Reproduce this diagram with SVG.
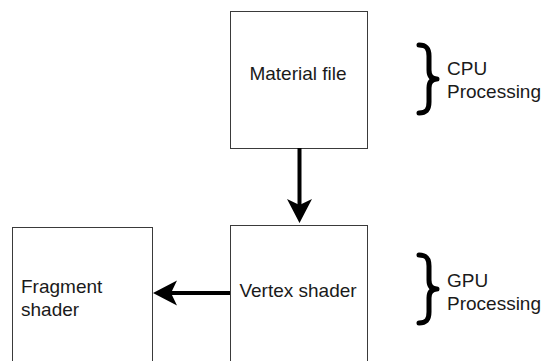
<svg xmlns="http://www.w3.org/2000/svg" width="544" height="361" viewBox="0 0 544 361">
  <style>
    .box { fill: #ffffff; stroke: #3a3a3a; stroke-width: 1; }
    .lbl { font-family: "Liberation Sans", Arial, sans-serif; font-size: 19px; fill: #1a1a1a; }
    .edge { stroke: #000000; stroke-width: 4; fill: none; }
    .head { fill: #000000; stroke: none; }
    .brace { stroke: #000000; stroke-width: 5; fill: none; stroke-linecap: round; stroke-linejoin: round; }
  </style>
  <rect width="544" height="361" fill="#ffffff"/>

  <g id="material-file">
    <rect class="box" x="230.5" y="11.5" width="137" height="137"/>
    <text class="lbl" x="298" y="80" text-anchor="middle">Material file</text>
  </g>

  <g id="vertex-shader">
    <rect class="box" x="230.5" y="225.5" width="137" height="150"/>
    <text class="lbl" x="298" y="297" text-anchor="middle">Vertex shader</text>
  </g>

  <g id="fragment-shader">
    <rect class="box" x="12.5" y="227.5" width="140" height="150"/>
    <text class="lbl" x="21" y="293">Fragment</text>
    <text class="lbl" x="21" y="316">shader</text>
  </g>

  <g id="cpu-processing">
    <path class="brace" d="M419,45 C427,45 429,49 429,56 L429,70 C429,76 432,79 437,79 C432,79 429,82 429,88 L429,102 C429,109 427,113 419,113"/>
    <text class="lbl" x="447" y="75">CPU</text>
    <text class="lbl" x="447" y="98">Processing</text>
  </g>

  <g id="gpu-processing">
    <path class="brace" d="M419,255 C427,255 429,259 429,266 L429,280 C429,286 432,289 437,289 C432,289 429,292 429,298 L429,312 C429,319 427,323 419,323"/>
    <text class="lbl" x="447" y="287">GPU</text>
    <text class="lbl" x="447" y="310">Processing</text>
  </g>

  <g id="connectors">
    <line class="edge" x1="299.5" y1="148" x2="299.5" y2="206"/>
    <path class="head" d="M299.5,223 L287,199 L299.5,205 L312,199 Z"/>
    <line class="edge" x1="230" y1="293" x2="170" y2="293"/>
    <path class="head" d="M153,293 L177,280.5 L171,293 L177,305.5 Z"/>
  </g>
</svg>
